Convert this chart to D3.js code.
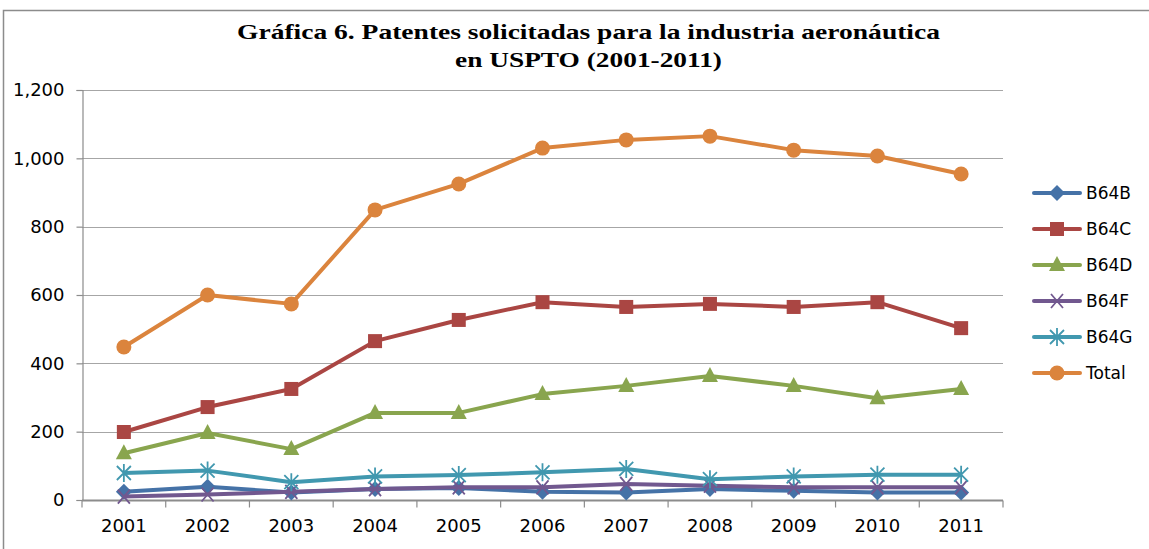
<!DOCTYPE html>
<html>
<head>
<meta charset="utf-8">
<title>Gráfica 6</title>
<script src="https://cdn.jsdelivr.net/npm/d3@7"></script>
<style>
  body { margin:0; background:#fff; }
  svg { display:block; }
</style>
</head>
<body>
<div id="chart"></div>
<script>
// data
var years = ['2001','2002','2003','2004','2005','2006','2007','2008','2009','2010','2011'];
var b64b  = [24, 39, 22, 32, 35, 24, 22, 32, 27, 22, 22];
var b64c  = [199, 272, 325, 465, 527, 579, 565, 574, 565, 579, 503];
var b64d  = [137, 196, 149, 255, 255, 310, 334, 363, 334, 298, 325];
var b64f  = [10, 16, 24, 32, 37, 37, 47, 42, 37, 37, 37];
var b64g  = [79, 86, 52, 69, 73, 81, 91, 61, 69, 74, 74];
var total = [448, 600, 574, 849, 925, 1030, 1054, 1065, 1024, 1007, 954];
var yTicks = [0, 200, 400, 600, 800, 1000, 1200];

var series = [
  {name:'B64B', values:b64b, color:'#4572A7', marker:'diamond'},
  {name:'B64C', values:b64c, color:'#AA4643', marker:'square'},
  {name:'B64D', values:b64d, color:'#89A54E', marker:'triangle'},
  {name:'B64F', values:b64f, color:'#71588F', marker:'cross'},
  {name:'B64G', values:b64g, color:'#4198AF', marker:'star'},
  {name:'Total', values:total, color:'#DB843D', marker:'circle'}
];

var w = 1149, h = 549;
var m = {left:82, right:146, top:90, bottom:49};
var labelFont = 'DejaVu Sans, Verdana, sans-serif';

var svg = d3.select('#chart').append('svg')
  .attr('width', w).attr('height', h);

// outer chart border
svg.append('rect')
  .attr('x', 3.5).attr('y', 10.5)
  .attr('width', w + 10).attr('height', h + 10)
  .attr('fill', 'none').attr('stroke', '#8c8c8c').attr('stroke-width', 1.5);

// title (stretched wide like the original)
var title = svg.append('g')
  .attr('font-family', 'Liberation Serif, serif')
  .attr('font-weight', 'bold')
  .attr('font-size', '21px')
  .attr('fill', '#000');
title.append('text').attr('x', 237).attr('y', 39)
  .attr('textLength', 703).attr('lengthAdjust', 'spacingAndGlyphs')
  .text('Gráfica 6. Patentes solicitadas para la industria aeronáutica');
title.append('text').attr('x', 455).attr('y', 67)
  .attr('textLength', 267).attr('lengthAdjust', 'spacingAndGlyphs')
  .text('en USPTO (2001-2011)');

var x = d3.scaleBand().domain(years).range([m.left, w - m.right]);
var y = d3.scaleLinear().domain([0, 1200]).range([h - m.bottom, m.top]);

// gridlines
svg.append('g').selectAll('line')
  .data(yTicks.filter(function(d){ return d > 0; }))
  .enter().append('line')
  .attr('x1', m.left).attr('x2', w - m.right)
  .attr('y1', function(d){ return Math.round(y(d)) + 0.5; })
  .attr('y2', function(d){ return Math.round(y(d)) + 0.5; })
  .attr('stroke', '#a6a6a6').attr('stroke-width', 1.2);

// y axis
var yAxis = svg.append('g')
  .attr('transform', 'translate(' + (m.left + 0.5) + ',0)')
  .call(d3.axisLeft(y).tickValues(yTicks).tickSize(6).tickPadding(12)
    .tickFormat(d3.format(',')));
yAxis.selectAll('text')
  .attr('font-family', labelFont)
  .attr('font-size', '18px').attr('fill', '#000');
yAxis.selectAll('line, path').attr('stroke', '#8c8c8c').attr('stroke-width', 1.2);

// x axis
var xAxis = svg.append('g')
  .attr('transform', 'translate(0,' + (y(0) + 0.5) + ')')
  .call(d3.axisBottom(x).tickSize(0).tickPadding(19));
xAxis.selectAll('text')
  .attr('font-family', labelFont)
  .attr('font-size', '18px').attr('fill', '#000');
xAxis.select('path').attr('stroke', '#8c8c8c').attr('stroke-width', 2)
  .attr('d', 'M' + m.left + ',0H' + (w - m.right));
// category boundary ticks
xAxis.selectAll('.bt')
  .data(years.concat(['end']))
  .enter().append('line')
  .attr('class', 'bt')
  .attr('x1', function(d, i){ return m.left + i * x.step(); })
  .attr('x2', function(d, i){ return m.left + i * x.step(); })
  .attr('y1', 0).attr('y2', 7)
  .attr('stroke', '#8c8c8c').attr('stroke-width', 1.2);

function drawMarker(g, type, color) {
  if (type === 'diamond') {
    g.append('path').attr('d', 'M0,-8L8,0L0,8L-8,0Z').attr('fill', color);
  } else if (type === 'square') {
    g.append('rect').attr('x', -7).attr('y', -7).attr('width', 14).attr('height', 14).attr('fill', color);
  } else if (type === 'triangle') {
    g.append('path').attr('d', 'M0,-9L8,6L-8,6Z').attr('fill', color);
  } else if (type === 'circle') {
    g.append('circle').attr('r', 7.5).attr('fill', color);
  } else if (type === 'cross') {
    g.append('path').attr('d', 'M-6,-7L6,7M-6,7L6,-7')
      .attr('stroke', color).attr('stroke-width', 1.8).attr('fill', 'none');
  } else if (type === 'star') {
    g.append('path').attr('d', 'M-7,-7L7,7M-7,7L7,-7M0,-9V9')
      .attr('stroke', color).attr('stroke-width', 1.8).attr('fill', 'none');
  }
}

var line = d3.line()
  .x(function(d, i){ return x(years[i]) + x.bandwidth() / 2; })
  .y(function(d){ return y(d); });

var plot = svg.append('g');
series.forEach(function(s) {
  plot.append('path')
    .datum(s.values)
    .attr('d', line)
    .attr('fill', 'none')
    .attr('stroke', s.color)
    .attr('stroke-width', 4)
    .attr('stroke-linejoin', 'round');
  plot.selectAll('.m-' + s.name)
    .data(s.values)
    .enter().append('g')
    .attr('class', 'm-' + s.name)
    .attr('transform', function(d, i){
      return 'translate(' + (x(years[i]) + x.bandwidth() / 2) + ',' + y(d) + ')';
    })
    .each(function(){ drawMarker(d3.select(this), s.marker, s.color); });
});

// legend
var legend = svg.append('g').attr('transform', 'translate(1034,193)');
var items = legend.selectAll('g')
  .data(series)
  .enter().append('g')
  .attr('transform', function(d, i){ return 'translate(0,' + (i * 36) + ')'; });
items.append('line')
  .attr('x1', 0).attr('x2', 46).attr('y1', 0).attr('y2', 0)
  .attr('stroke', function(d){ return d.color; })
  .attr('stroke-width', 4).attr('stroke-linecap', 'round');
items.each(function(d){
  var g = d3.select(this).append('g').attr('transform', 'translate(23,0)');
  drawMarker(g, d.marker, d.color);
});
items.append('text')
  .attr('x', 52).attr('y', 6)
  .attr('font-family', labelFont)
  .attr('font-size', '17px').attr('fill', '#000')
  .text(function(d){ return d.name; });
</script>
</body>
</html>
